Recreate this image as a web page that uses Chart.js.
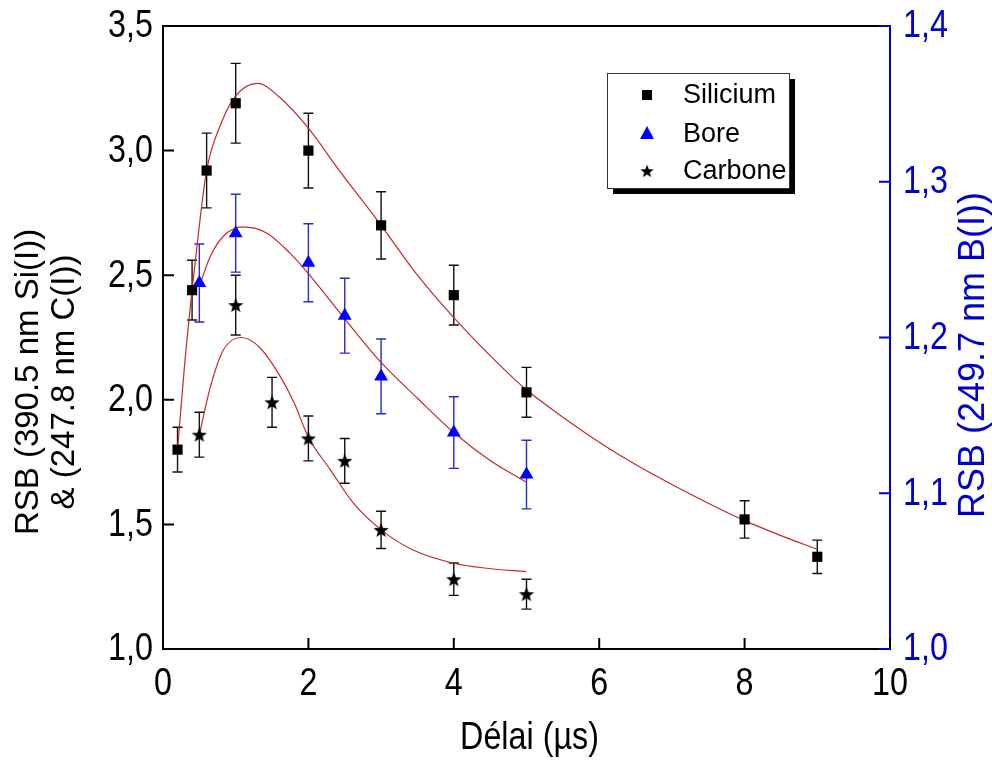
<!DOCTYPE html>
<html>
<head>
<meta charset="utf-8">
<title>RSB en fonction du délai</title>
<script src="https://cdn.jsdelivr.net/npm/chart.js@4.4.1/dist/chart.umd.min.js"></script>
<style>
  html, body { margin: 0; padding: 0; background: #fff; }
</style>
</head>
<body>
<canvas id="rsbChart" width="992" height="760"></canvas>
<script>
// Points mesurés : délai (µs), RSB, barre d'erreur
const siDelay = [0.2, 0.4, 0.6, 1, 2, 3, 4, 5, 8, 9];
const siRsb   = [1.80, 2.44, 2.92, 3.19, 3.00, 2.70, 2.42, 2.03, 1.52, 1.37];
const siErr   = [0.09, 0.12, 0.15, 0.16, 0.15, 0.135, 0.12, 0.10, 0.075, 0.067];

const bDelay = [0.5, 1, 2, 2.5, 3, 4, 5];
const bRsb   = [1.235, 1.267, 1.248, 1.214, 1.175, 1.139, 1.112];
const bErr   = [0.025, 0.025, 0.025, 0.024, 0.024, 0.023, 0.022];

const cDelay = [0.5, 1, 1.5, 2, 2.5, 3, 4, 5];
const cRsb   = [1.86, 2.38, 1.99, 1.845, 1.755, 1.478, 1.28, 1.22];
const cErr   = [0.09, 0.12, 0.10, 0.09, 0.09, 0.075, 0.065, 0.06];

// Courbes d'ajustement (relevées point par point)
const siFitX = [0.2, 0.3, 0.4, 0.5, 0.6, 0.8, 1.0, 1.3, 1.6, 2.0, 2.4, 3.0, 3.5, 4.0, 4.7, 5.0, 5.5, 6.0, 6.5, 7.0, 7.5, 8.0, 8.5, 9.0];
const siFitY = [1.80, 2.15, 2.44, 2.70, 2.92, 3.11, 3.22, 3.27, 3.215, 3.09, 2.93, 2.70, 2.50, 2.33, 2.12, 2.04, 1.93, 1.83, 1.74, 1.66, 1.585, 1.515, 1.455, 1.40];

const bFitX = [0.5, 0.65, 0.83, 1.1, 1.43, 1.75, 2.0, 2.5, 3.0, 3.5, 4.0, 4.5, 5.0];
const bFitY = [1.233, 1.252, 1.265, 1.271, 1.267, 1.254, 1.241, 1.212, 1.184, 1.161, 1.139, 1.121, 1.107];

const cFitX = [0.5, 0.65, 0.83, 1.08, 1.33, 1.6, 1.8, 2.0, 2.3, 2.62, 3.0, 3.44, 4.0, 4.45, 5.0];
const cFitY = [1.86, 2.05, 2.20, 2.25, 2.21, 2.10, 1.99, 1.85, 1.72, 1.585, 1.478, 1.397, 1.344, 1.324, 1.31];

// Graduations
const xTicks = [0, 2, 4, 6, 8, 10];
const leftTicks = [1.0, 1.5, 2.0, 2.5, 3.0, 3.5];
const rightTicks = [1.0, 1.1, 1.2, 1.3, 1.4];

const BLUE = '#0000cc';
const RED = 'rgb(200, 40, 40)';
const SANS = "'Liberation Sans', Arial, sans-serif";
const LABEL_FONT = '38px ' + SANS;
const SQUEEZE = 0.85;   // police étroite façon Arial Narrow

function pts(xs, ys) {
  return xs.map((x, i) => ({ x: x, y: ys[i] }));
}

// étoile pleine à cinq branches pour le carbone
function makeStar(size, color) {
  const c = document.createElement('canvas');
  c.width = size; c.height = size;
  const g = c.getContext('2d');
  const cx = size / 2, cy = size / 2 + size * 0.04, R = size / 2, r = R * 0.42;
  g.beginPath();
  for (let k = 0; k < 10; k++) {
    const rad = k % 2 ? r : R;
    const a = -Math.PI / 2 + k * Math.PI / 5;
    g.lineTo(cx + rad * Math.cos(a), cy + rad * Math.sin(a));
  }
  g.closePath();
  g.fillStyle = color;
  g.fill();
  return c;
}
const star = makeStar(16, '#000');

const commaFmt = v => v.toFixed(1).replace('.', ',');

// texte resserré horizontalement
function narrowText(ctx, text, x, y, align) {
  ctx.save();
  ctx.translate(x, y);
  ctx.scale(SQUEEZE, 1);
  ctx.textAlign = align;
  ctx.fillText(text, 0, 0);
  ctx.restore();
}

// barres d'erreur sous les marqueurs
const errorBars = {
  id: 'errorBars',
  beforeDatasetsDraw(chart) {
    const ctx = chart.ctx;
    chart.data.datasets.forEach((ds, i) => {
      if (!ds.errors) return;
      const meta = chart.getDatasetMeta(i);
      const yScale = chart.scales[ds.yAxisID];
      ctx.save();
      ctx.strokeStyle = ds.errorColor;
      ctx.lineWidth = 1.4;
      meta.data.forEach((pt, j) => {
        const v = ds.data[j].y, e = ds.errors[j];
        const top = yScale.getPixelForValue(v + e);
        const bot = yScale.getPixelForValue(v - e);
        ctx.beginPath();
        ctx.moveTo(pt.x, top); ctx.lineTo(pt.x, bot);
        ctx.moveTo(pt.x - 5, top); ctx.lineTo(pt.x + 5, top);
        ctx.moveTo(pt.x - 5, bot); ctx.lineTo(pt.x + 5, bot);
        ctx.stroke();
      });
      ctx.restore();
    });
  }
};

// cadre du haut, graduations intérieures, libellés, titres d'axes et légende
const frame = {
  id: 'frame',
  afterDraw(chart) {
    const ctx = chart.ctx;
    const a = chart.chartArea;
    const sx = chart.scales.x, sy = chart.scales.y, sy1 = chart.scales.y1;
    const TL = 11;
    ctx.save();
    ctx.lineWidth = 2;
    ctx.strokeStyle = '#000';
    ctx.beginPath();
    ctx.moveTo(a.left - 1, a.top); ctx.lineTo(a.right, a.top);
    ctx.stroke();

    ctx.beginPath();
    xTicks.forEach(v => {
      const px = sx.getPixelForValue(v);
      ctx.moveTo(px, a.bottom); ctx.lineTo(px, a.bottom - TL);
    });
    leftTicks.forEach(v => {
      const py = sy.getPixelForValue(v);
      ctx.moveTo(a.left, py); ctx.lineTo(a.left + TL, py);
    });
    ctx.stroke();
    ctx.strokeStyle = BLUE;
    ctx.beginPath();
    rightTicks.forEach(v => {
      const py = sy1.getPixelForValue(v);
      ctx.moveTo(a.right, py); ctx.lineTo(a.right - TL, py);
    });
    ctx.stroke();

    // libellés des graduations
    ctx.font = LABEL_FONT;
    ctx.textBaseline = 'middle';
    ctx.fillStyle = '#000';
    xTicks.forEach(v => narrowText(ctx, String(v), sx.getPixelForValue(v), a.bottom + 36, 'center'));
    leftTicks.forEach(v => narrowText(ctx, commaFmt(v), a.left - 10, sy.getPixelForValue(v) + 1, 'right'));
    ctx.fillStyle = BLUE;
    rightTicks.forEach(v => narrowText(ctx, commaFmt(v), a.right + 13, sy1.getPixelForValue(v) + 1, 'left'));

    // titres
    ctx.fillStyle = '#000';
    narrowText(ctx, 'Délai (µs)', (a.left + a.right) / 2 + 3, 739, 'center');

    ctx.textAlign = 'center';
    ctx.save();
    ctx.translate(29, 382);
    ctx.rotate(-Math.PI / 2);
    ctx.font = '33px ' + SANS;
    ctx.fillText('RSB (390.5 nm Si(I))', 0, 0);
    ctx.fillText('& (247.8 nm C(I))', 0, 36);
    ctx.restore();

    ctx.save();
    ctx.translate(974, 355);
    ctx.rotate(-Math.PI / 2);
    ctx.fillStyle = BLUE;
    ctx.font = '36px ' + SANS;
    ctx.fillText('RSB (249.7 nm B(I))', 0, 0);
    ctx.restore();

    // légende avec ombre portée
    const lx = 607, ly = 73, lw = 182, lh = 115;
    ctx.fillStyle = '#000';
    ctx.fillRect(lx + 6, ly + 6, lw, lh);
    ctx.fillStyle = '#fff';
    ctx.fillRect(lx, ly, lw, lh);
    ctx.lineWidth = 1;
    ctx.strokeStyle = '#333';
    ctx.strokeRect(lx + 0.5, ly + 0.5, lw, lh);

    const mx = 647, tx = 683;
    const rows = [95, 134, 171];
    ctx.fillStyle = '#000';
    ctx.fillRect(mx - 5, rows[0] - 5, 10, 10);
    ctx.fillStyle = '#0000ff';
    ctx.beginPath();
    ctx.moveTo(mx, rows[1] - 8);
    ctx.lineTo(mx + 7, rows[1] + 5);
    ctx.lineTo(mx - 7, rows[1] + 5);
    ctx.closePath();
    ctx.fill();
    ctx.drawImage(star, mx - 7, rows[2] - 7, 14, 14);

    ctx.fillStyle = '#000';
    ctx.textAlign = 'left';
    ctx.font = '27px ' + SANS;
    const names = chart.data.datasets.filter(d => d.errors).map(d => d.label);
    names.forEach((n, i) => ctx.fillText(n, tx, rows[i] + 1));
    ctx.restore();
  }
};

const fitStyle = {
  showLine: true,
  borderColor: RED,
  borderWidth: 1.2,
  pointRadius: 0,
  cubicInterpolationMode: 'monotone',
  order: 2
};

// pas de marge automatique autour des axes
const noPad = s => { s.paddingTop = 0; s.paddingBottom = 0; s.paddingLeft = 0; s.paddingRight = 0; };

new Chart(document.getElementById('rsbChart'), {
  type: 'scatter',
  data: {
    datasets: [
      {
        label: 'Silicium', data: pts(siDelay, siRsb), errors: siErr, errorColor: '#111',
        yAxisID: 'y', pointStyle: 'rect', pointRadius: 7.2,
        backgroundColor: '#000', borderColor: '#000', borderWidth: 0, order: 1
      },
      {
        label: 'Bore', data: pts(bDelay, bRsb), errors: bErr, errorColor: '#2a2ad0',
        yAxisID: 'y1', pointStyle: 'triangle', pointRadius: 8,
        backgroundColor: '#0000ff', borderColor: '#0000ff', borderWidth: 0, order: 1
      },
      {
        label: 'Carbone', data: pts(cDelay, cRsb), errors: cErr, errorColor: '#111',
        yAxisID: 'y', pointStyle: star, pointRadius: 8, order: 1
      },
      Object.assign({ label: 'fit Si', data: pts(siFitX, siFitY), yAxisID: 'y' }, fitStyle),
      Object.assign({ label: 'fit B', data: pts(bFitX, bFitY), yAxisID: 'y1' }, fitStyle),
      Object.assign({ label: 'fit C', data: pts(cFitX, cFitY), yAxisID: 'y' }, fitStyle)
    ]
  },
  options: {
    responsive: false,
    animation: false,
    devicePixelRatio: 1,
    layout: { padding: { top: 26, left: 0, right: 0, bottom: 0 } },
    plugins: {
      legend: { display: false },
      tooltip: { enabled: false }
    },
    scales: {
      x: {
        type: 'linear', position: 'bottom', min: 0, max: 10,
        afterBuildTicks: s => { s.ticks = xTicks.map(v => ({ value: v })); },
        afterFit: s => { s.height = 111; noPad(s); },
        grid: { display: false },
        border: { display: true, color: '#000', width: 2 },
        ticks: { display: false }
      },
      y: {
        type: 'linear', position: 'left', min: 1.0, max: 3.5,
        afterBuildTicks: s => { s.ticks = leftTicks.map(v => ({ value: v })); },
        afterFit: s => { s.width = 163; noPad(s); },
        grid: { display: false },
        border: { display: true, color: '#000', width: 2 },
        ticks: { display: false }
      },
      y1: {
        type: 'linear', position: 'right', min: 1.0, max: 1.4,
        afterBuildTicks: s => { s.ticks = rightTicks.map(v => ({ value: v })); },
        afterFit: s => { s.width = 102; noPad(s); },
        grid: { display: false },
        border: { display: true, color: BLUE, width: 2 },
        ticks: { display: false }
      }
    }
  },
  plugins: [errorBars, frame]
});
</script>
</body>
</html>
